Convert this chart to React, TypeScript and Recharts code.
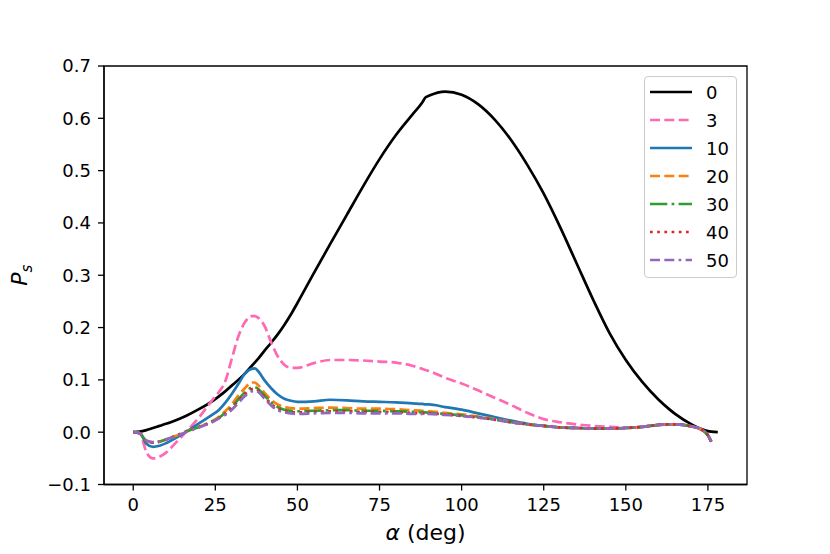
import React from 'react';
import { LineChart, Line, XAxis, YAxis, ReferenceArea, Label } from 'recharts';

const alphaDeg = [0, 2, 4, 6, 8, 10, 13, 16, 20, 24, 26, 28, 30, 32, 34, 36, 37, 38, 40, 42, 44, 46, 48, 50, 55, 60, 65, 70, 75, 80, 85, 88, 89, 90, 95, 100, 105, 110, 115, 120, 125, 130, 135, 140, 145, 150, 155, 160, 163, 165, 170, 173, 175, 176, 178];

const tailCluster = [0.009, 0.008, 0.007, 0.007, 0.008, 0.010, 0.014, 0.015, 0.015, 0.011, 0.005, -0.006, -0.018, null];

const ps0 = [0, 0.001, 0.004, 0.008, 0.012, 0.016, 0.023, 0.031, 0.044, 0.059, 0.068, 0.078, 0.089, 0.100, 0.112, 0.126, 0.133, 0.140, 0.156, 0.171, 0.187, 0.205, 0.225, 0.247, 0.304, 0.360, 0.415, 0.470, 0.522, 0.568, 0.607, 0.630, 0.640, 0.643, 0.651, 0.645, 0.627, 0.598, 0.559, 0.511, 0.456, 0.392, 0.323, 0.254, 0.190, 0.138, 0.096, 0.062, 0.045, 0.035, 0.015, 0.006, 0.002, 0.001, 0.000];

const ps3 = [0, -0.002, -0.038, -0.050, -0.047, -0.039, -0.020, 0.000, 0.028, 0.061, 0.076, 0.097, 0.140, 0.183, 0.210, 0.222, 0.222, 0.219, 0.203, 0.172, 0.145, 0.129, 0.123, 0.123, 0.132, 0.138, 0.138, 0.137, 0.135, 0.133, 0.127, 0.121, 0.119, 0.117, 0.104, 0.093, 0.080, 0.066, 0.052, 0.037, 0.025, 0.019, 0.015, 0.012, 0.010, 0.009, 0.010, 0.014, 0.015, 0.015, 0.011, 0.005, -0.006, -0.018, null];

const ps10 = [0, -0.002, -0.022, -0.028, -0.026, -0.021, -0.011, 0.000, 0.017, 0.033, 0.042, 0.056, 0.073, 0.092, 0.112, 0.121, 0.122, 0.117, 0.099, 0.084, 0.072, 0.064, 0.060, 0.058, 0.059, 0.062, 0.061, 0.059, 0.058, 0.057, 0.055, 0.054, 0.053, 0.053, 0.048, 0.043, 0.036, 0.029, 0.022, 0.016, 0.012, ...tailCluster];

const ps20 = [0, -0.002, -0.017, -0.020, -0.018, -0.014, -0.007, 0.001, 0.010, 0.021, 0.029, 0.040, 0.053, 0.070, 0.084, 0.095, 0.095, 0.090, 0.075, 0.062, 0.053, 0.048, 0.046, 0.045, 0.046, 0.047, 0.046, 0.045, 0.045, 0.044, 0.042, 0.041, 0.040, 0.040, 0.037, 0.034, 0.030, 0.025, 0.020, 0.015, 0.012, ...tailCluster];

const ps30 = [0, -0.002, -0.017, -0.020, -0.018, -0.014, -0.007, 0.001, 0.010, 0.020, 0.027, 0.037, 0.048, 0.063, 0.076, 0.085, 0.086, 0.083, 0.070, 0.057, 0.048, 0.043, 0.041, 0.040, 0.041, 0.042, 0.042, 0.041, 0.041, 0.040, 0.039, 0.038, 0.038, 0.037, 0.035, 0.032, 0.029, 0.024, 0.019, 0.015, 0.012, ...tailCluster];

const ps40 = [0, -0.002, -0.017, -0.020, -0.018, -0.014, -0.007, 0.001, 0.010, 0.020, 0.027, 0.035, 0.046, 0.060, 0.073, 0.082, 0.083, 0.080, 0.067, 0.054, 0.045, 0.040, 0.038, 0.038, 0.039, 0.040, 0.040, 0.039, 0.039, 0.038, 0.037, 0.036, 0.036, 0.036, 0.034, 0.031, 0.028, 0.024, 0.019, 0.015, 0.012, ...tailCluster];

const ps50 = [0, -0.002, -0.016, -0.019, -0.018, -0.014, -0.008, 0.000, 0.009, 0.019, 0.026, 0.033, 0.043, 0.056, 0.069, 0.078, 0.079, 0.077, 0.064, 0.051, 0.042, 0.038, 0.036, 0.035, 0.036, 0.037, 0.037, 0.036, 0.036, 0.036, 0.035, 0.035, 0.035, 0.035, 0.033, 0.031, 0.028, 0.024, 0.019, 0.015, 0.012, ...tailCluster];

const xTicks = [0, 25, 50, 75, 100, 125, 150, 175];
const yTicks = [-0.1, 0, 0.1, 0.2, 0.3, 0.4, 0.5, 0.6, 0.7];

const series = [
  { key: 's0', name: '0', values: ps0, color: '#000000', dash: undefined as string | undefined },
  { key: 's3', name: '3', values: ps3, color: '#ff69b4', dash: '10 4.3' },
  { key: 's10', name: '10', values: ps10, color: '#1f77b4', dash: undefined },
  { key: 's20', name: '20', values: ps20, color: '#ff7f0e', dash: '10 4.3' },
  { key: 's30', name: '30', values: ps30, color: '#2ca02c', dash: '17.3 4.3 2.7 4.3' },
  { key: 's40', name: '40', values: ps40, color: '#d62728', dash: '2.7 4.5' },
  { key: 's50', name: '50', values: ps50, color: '#9467bd', dash: '10 4.3 10 4.3 2.7 4.3' },
];

const data = alphaDeg.map((a, i) => {
  const row: Record<string, number | null> = { a };
  series.forEach((s) => {
    row[s.key] = s.values[i] as number | null;
  });
  return row;
});

const fmtY = (v: number) => {
  const r = Math.round(v * 10) / 10;
  return r < 0 ? '\u2212' + Math.abs(r).toFixed(1) : r.toFixed(1);
};

const LW = 2.7;
const AX = 1.3;

const XLabel = (props: any) => {
  const vb = props.viewBox || { x: 96, y: 476.5, width: 643, height: 50 };
  const cx = vb.x + vb.width / 2;
  return (
    <text x={cx} y={532} textAnchor="middle" fontSize={22} fill="#000">
      <tspan fontStyle="italic">α</tspan>
      <tspan> (deg)</tspan>
    </text>
  );
};

const YLabel = (props: any) => {
  const vb = props.viewBox || { x: 36, y: 58, width: 60, height: 418.5 };
  const cy = vb.y + vb.height / 2;
  const bx = 19;
  return (
    <text x={bx} y={cy} textAnchor="middle" fontSize={22} fill="#000" transform={`rotate(-90, ${bx}, ${cy})`}>
      <tspan fontStyle="italic">P</tspan>
      <tspan fontStyle="italic" fontSize={15} dy={5}>s</tspan>
    </text>
  );
};

const LegendBox = () => (
  <div
    style={{
      position: 'absolute',
      left: 636,
      top: 68,
      width: 93,
      height: 202,
      boxSizing: 'border-box',
      border: '1px solid #cccccc',
      borderRadius: 4,
      background: 'rgba(255,255,255,0.8)',
    }}
  >
    <svg width={91} height={200} style={{ display: 'block' }}>
      {series.map((s, i) => {
        const cy = 15 + 28 * i;
        return (
          <g key={s.key}>
            <line x1={5} x2={47} y1={cy} y2={cy} stroke={s.color} strokeWidth={LW} strokeDasharray={s.dash} />
            <text x={61} y={cy + 6.5} fontSize={18} fill="#000">
              {s.name}
            </text>
          </g>
        );
      })}
    </svg>
  </div>
);

export default function App() {
  return (
    <div style={{ position: 'relative', width: 822, height: 546, fontFamily: '"DejaVu Sans", sans-serif', background: '#fff' }}>
      <LineChart width={822} height={546} data={data} margin={{ top: 58, right: 83, bottom: 19.5, left: 36 }}>
        <XAxis
          dataKey="a"
          type="number"
          domain={[-8.9, 186.9]}
          ticks={xTicks}
          allowDataOverflow
          height={50}
          tickSize={6}
          tickMargin={8}
          tick={{ fontSize: 18, fill: '#000' }}
          tickLine={{ stroke: '#000', strokeWidth: AX }}
          axisLine={{ stroke: '#000', strokeWidth: AX }}
        >
          <Label content={XLabel} />
        </XAxis>
        <YAxis
          type="number"
          domain={[-0.1, 0.7]}
          ticks={yTicks}
          allowDataOverflow
          width={60}
          tickSize={6}
          tickMargin={7}
          tickFormatter={fmtY}
          tick={{ fontSize: 18, fill: '#000' }}
          tickLine={{ stroke: '#000', strokeWidth: AX }}
          axisLine={{ stroke: '#000', strokeWidth: AX }}
        >
          <Label content={YLabel} />
        </YAxis>
        <ReferenceArea x1={-8.9} x2={186.9} y1={-0.1} y2={0.7} fill="none" fillOpacity={0} stroke="#000" strokeWidth={AX} />
        {series.map((s) => (
          <Line
            key={s.key}
            dataKey={s.key}
            name={s.name}
            type="monotone"
            stroke={s.color}
            strokeWidth={LW}
            strokeDasharray={s.dash}
            dot={false}
            activeDot={false}
            isAnimationActive={false}
          />
        ))}
      </LineChart>
      <LegendBox />
    </div>
  );
}
